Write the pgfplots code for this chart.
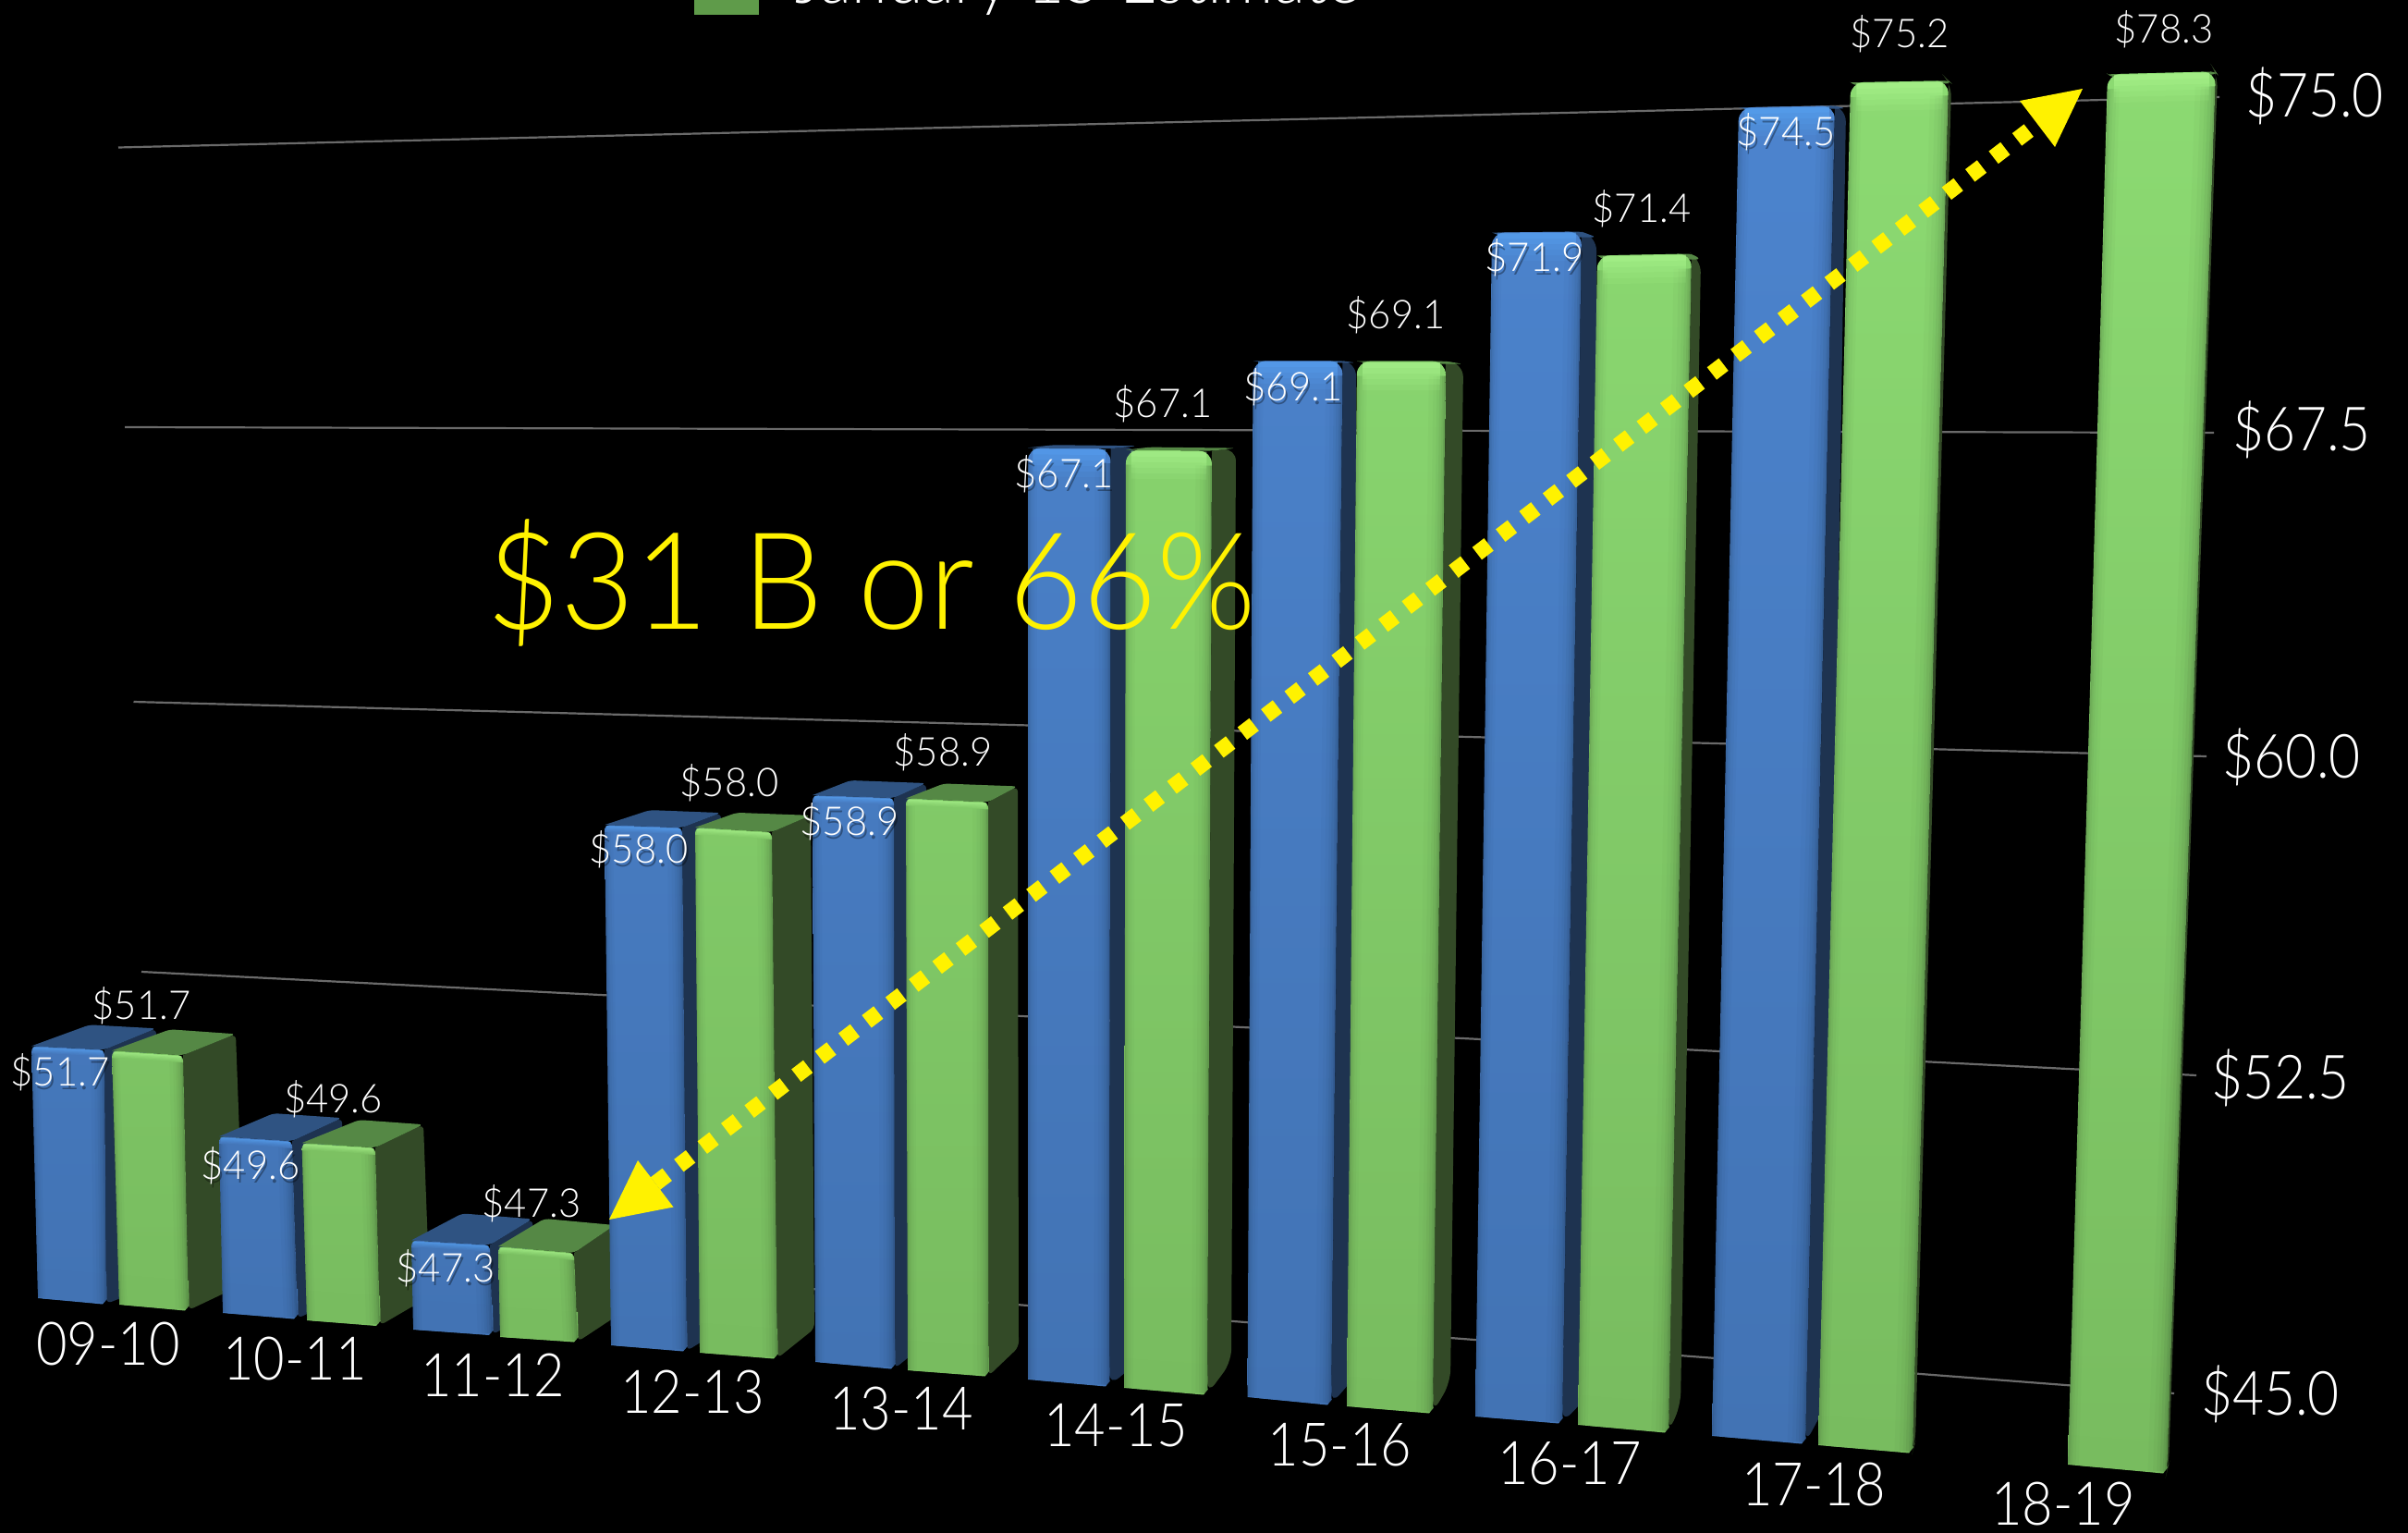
\documentclass[border=0pt]{standalone}
\usepackage{fontspec}
\setmainfont{Lato}[UprightFont=* Light]
\newfontfamily\axisfont{Lato}[UprightFont=* Light,FakeStretch=0.89]
\newfontfamily\valuefont{Lato}[UprightFont=* Light,FakeStretch=0.97]
\newfontfamily\bigfont{Lato}[UprightFont=* Light,FakeStretch=0.945]
\usepackage{pgfplots}
\usepackage{pgfplotstable}
\pgfplotsset{compat=1.18}

\definecolor{blueBot}{HTML}{4273B4}
\definecolor{blueTop}{HTML}{4C84CE}
\definecolor{blueSide}{HTML}{1E3350}
\definecolor{blueFace}{HTML}{2F5382}
\definecolor{blueGlow}{HTML}{5CACFF}
\definecolor{greenBot}{HTML}{78BC5F}
\definecolor{greenTop}{HTML}{8CDA72}
\definecolor{greenSide}{HTML}{334A27}
\definecolor{greenFace}{HTML}{558845}
\definecolor{greenGlow}{HTML}{B4FF96}
\definecolor{gridgrey}{HTML}{6A6A6A}
\definecolor{callout}{HTML}{FFF200}
\definecolor{legendgreen}{HTML}{5F9B4A}

% One row per bar: value, vertical scale, tilt of the top edge, front face
% corners, depth offsets of the top face and side, label position.
\pgfplotstableread{
cat val k tilt tlx trx blx bly brx bry tdx tdy sdx sdy sbx sby lx ly
09-10 51.7 40.7 4 34 113 41 1404 115 1410 63 -23 56 -23 172 1388 65 1160
10-11 49.6 41.5 5 237 316 241 1420 322 1426 59 -25 54 -25 375 1400 271 1261
11-12 47.3 42 5 445 530 447 1438 533 1443.5 55 -29 46 -28 580 1415 482 1372
12-13 58.0 43.3 3 654 738 661 1455 743 1461 49 -16 42 -16 785 1435 691 919
13-14 58.9 44.1 3 879 967 882 1473 968 1480 41 -16 35 -16 1005 1450 919 889
14-15 67.1 45.6 1 1112 1201.5 1112 1492 1200 1499 28 -3 28.5 -3 1232 1472 1151 513
15-16 69.1 46.5 0 1355.6 1452.5 1349.5 1511 1440 1519 15 2 14.5 2 1465 1490 1399 419
16-17 71.9 47.6 -1 1614 1711 1596 1532 1690 1539 16 6 16 6 1727 1500 1660 279
17-18 74.5 48.7 -2 1881 1985 1852 1553 1953 1561 12 3 12 3 1975 1520 1932 143
}\bluetab

\pgfplotstableread{
cat val k tilt tlx trx blx bly brx bry tdx tdy sdx sdy sbx sby lx ly cx cy
09-10 51.7 41 5 121 198 129 1411 204 1417 63 -23 57 -23 265 1388 153 1088 117 1453
10-11 49.6 41.7 5 326.5 406 332 1428 411 1433.5 62 -25 52 -25 465 1402 360.5 1189 319 1469
11-12 47.3 42.6 7 539 621 541 1446 625 1451 50 -30 44 -30 672 1420 575 1302 533 1487
12-13 58.0 43.7 5 752 835 757 1463 841 1469 45 -16 42 -18 881 1437 789 847 749 1505
13-14 58.9 44.5 4 980 1069 982 1482 1069.5 1488 41 -16 32 -17 1102 1457 1020 814 975 1523
14-15 67.1 45.9 1 1218 1311 1216 1501 1306 1508 26 -3 26 -3 1332 1473 1258 437 1207 1542
15-16 69.1 46.9 0 1468 1564 1457 1521 1550 1528 19 3 19 3 1569 1495 1510 340.5 1449.5 1563
16-17 71.4 47.9 -2 1728 1830 1707 1541 1805 1549 10 6 10 6 1818 1520 1776 226 1698 1583
17-18 75.2 48.8 -2 2002 2108 1967 1563 2069 1571 3 3 3 3 2072 1560 2055 36.5 1962 1605
18-19 78.3 49.3 -3 2280 2397 2237 1584 2344 1593 2 3 2 3 2346 1585 2341 31.5 2232 1626
}\greentab

% Value axis is cut off a little above its last gridline.
\def\valuecap{75.5}
\def\valuebase{45}

\newcommand{\fetch}[3]{\pgfplotstablegetelem{\rowno}{#2}\of{#1}\let#3\pgfplotsretval}

% Semi-transparent strip of the front face between fractions #1 and #2 of its width.
\newcommand{\edgestrip}[3]{%
  \pgfmathsetmacro{\sa}{\tlx+#1*(\trx-\tlx)}%
  \pgfmathsetmacro{\sb}{\tlx+#2*(\trx-\tlx)}%
  \pgfmathsetmacro{\sc}{\blx+#2*(\brx-\blx)}%
  \pgfmathsetmacro{\sd}{\blx+#1*(\brx-\blx)}%
  \pgfmathsetmacro{\ya}{\ytl+#1*(\ytr-\ytl)+\inset}%
  \pgfmathsetmacro{\yb}{\ytl+#2*(\ytr-\ytl)+\inset}%
  \pgfmathsetmacro{\yc}{\bly+#2*(\bry-\bly)-1}%
  \pgfmathsetmacro{\yd}{\bly+#1*(\bry-\bly)-1}%
  \edef\cmd{\noexpand\addplot[draw=none,fill=black,fill opacity=#3]
    coordinates {(\sa,\ya)(\sb,\yb)(\sc,\yc)(\sd,\yd)};}\cmd}

% Glow along the upper edge of the front face, #1 pixels deep.
\newcommand{\glowstrip}[2]{%
  \pgfmathsetmacro{\sa}{\tlx+\glowside*(\trx-\tlx)}%
  \pgfmathsetmacro{\sb}{\tlx+(1-\glowside)*(\trx-\tlx)}%
  \pgfmathsetmacro{\ya}{\ytl+\glowside*(\ytr-\ytl)+1}%
  \pgfmathsetmacro{\yb}{\ytl+(1-\glowside)*(\ytr-\ytl)+1}%
  \pgfmathsetmacro{\yc}{\yb+#1}%
  \pgfmathsetmacro{\yd}{\ya+#1}%
  \edef\cmd{\noexpand\addplot[draw=none,fill=\palette Glow,fill opacity=#2]
    coordinates {(\sa,\ya)(\sb,\yb)(\sb,\yc)(\sa,\yd)};}\cmd}

% Draws one bar: side, top face, front face, soft edges and glow.
\newcommand{\drawbar}[2]{%
  \def\palette{#2}%
  \fetch{#1}{val}\val \fetch{#1}{k}\kk \fetch{#1}{tilt}\tilt
  \fetch{#1}{tlx}\tlx \fetch{#1}{trx}\trx
  \fetch{#1}{blx}\blx \fetch{#1}{bly}\bly \fetch{#1}{brx}\brx \fetch{#1}{bry}\bry
  \fetch{#1}{tdx}\tdx \fetch{#1}{tdy}\tdy \fetch{#1}{sdx}\sdx \fetch{#1}{sdy}\sdy
  \fetch{#1}{sbx}\sbx \fetch{#1}{sby}\sby
  \pgfmathsetmacro{\ytl}{\bly-(min(\val,\valuecap)-\valuebase)*\kk}%
  \pgfmathsetmacro{\ytr}{\ytl+\tilt}%
  \pgfmathsetmacro{\xbl}{\tlx+\tdx}\pgfmathsetmacro{\ybl}{\ytl+\tdy}%
  \pgfmathsetmacro{\xbr}{\trx+\sdx}\pgfmathsetmacro{\ybr}{\ytr+\sdy}%
  \pgfmathsetmacro{\xmid}{0.5*(\tlx+\trx)}\pgfmathsetmacro{\ymid}{0.5*(\ytl+\ytr)}%
  \pgfmathtruncatemacro{\share}{max(0,min(100,(\ytl-100)/14))}%
  \pgfmathsetmacro{\glowdepth}{\tdy<-10 ? 6 : 30}%
  \pgfmathsetmacro{\glowside}{\tdy<-10 ? 0.02 : 0.06}%
  \pgfmathsetmacro{\radius}{\tdy<-10 ? 3 : 7}%
  \pgfmathsetmacro{\inset}{\tdy<-10 ? 8 : 16}%
  % the foot of the bar keeps a nearly square outline
  \pgfmathsetmacro{\footl}{\bly-32}\pgfmathsetmacro{\footr}{\bry-32}%
  \pgfmathsetmacro{\footx}{\brx-4}\pgfmathsetmacro{\footy}{\bry+0.5}%
  \pgfmathsetmacro{\foota}{\brx+0.5}\pgfmathsetmacro{\footb}{\bry-5}%
  \edef\cmd{\noexpand\addplot[draw=none,fill=\palette Side,rounded corners=\radius pt]
    coordinates {(\trx,\ytr)(\xbr,\ybr)(\sbx,\sby)(\brx,\bry)(\trx,\ytr)};}\cmd
  \edef\cmd{\noexpand\addplot[draw=none,fill=\palette Face,rounded corners=2.5pt]
    coordinates {(\tlx,\ytl)(\xbl,\ybl)(\xbr,\ybr)(\trx,\ytr)(\tlx,\ytl)};}\cmd
  \edef\cmd{\noexpand\addplot[draw=none,rounded corners=\radius pt,
      top color=\palette Bot!\share!\palette Top,bottom color=\palette Bot]
    coordinates {(\xmid,\ymid)(\trx,\ytr)(\brx,\bry)(\blx,\bly)(\tlx,\ytl)(\xmid,\ymid)};}\cmd
  \edef\cmd{\noexpand\addplot[draw=none,fill=\palette Bot]
    coordinates {(\blx,\footl)(\brx,\footr)(\foota,\footb)(\footx,\footy)(\blx,\bly)};}\cmd
  \edgestrip{0}{0.015}{0.05}\edgestrip{0}{0.03}{0.04}\edgestrip{0}{0.05}{0.03}%
  \edgestrip{0}{0.08}{0.025}\edgestrip{0}{0.11}{0.02}%
  \edgestrip{0.98}{1}{0.07}\edgestrip{0.96}{1}{0.05}\edgestrip{0.93}{1}{0.04}%
  \edgestrip{0.90}{1}{0.03}\edgestrip{0.86}{1}{0.025}\edgestrip{0.81}{1}{0.02}%
  \glowstrip{\glowdepth}{0.10}%
  \pgfmathsetmacro{\gv}{\glowdepth*0.8}\glowstrip{\gv}{0.12}%
  \pgfmathsetmacro{\gv}{\glowdepth*0.6}\glowstrip{\gv}{0.14}%
  \pgfmathsetmacro{\gv}{\glowdepth*0.4}\glowstrip{\gv}{0.18}%
  \pgfmathsetmacro{\gv}{\glowdepth*0.2}\glowstrip{\gv}{0.22}%
}

\tikzset{
  vallabel/.style={font=\valuefont\fontsize{21.5}{24}\selectfont,text=white,inner sep=0pt},
  catlabel/.style={font=\axisfont\fontsize{32.5}{36}\selectfont,text=white,inner sep=0pt},
  ticklabel/.style={font=\axisfont\fontsize{33}{36}\selectfont,text=white,inner sep=0pt},
}

\begin{document}
\begin{tikzpicture}
\path[use as bounding box,clip] (0,0) rectangle (1302.5pt,829pt);
\fill[black] (0,0) rectangle (1302.5pt,829pt);
\begin{axis}[
  at={(0,0)},anchor=south west,
  scale only axis,width=1302.5pt,height=829pt,
  xmin=0,xmax=2605,ymin=0,ymax=1658,y dir=reverse,
  hide axis,clip=false,
]
% gridlines of the value axis
\addplot[gridgrey,line width=1.1pt] coordinates {(128,159.5)(2401,105)};
\addplot[gridgrey,line width=1.1pt] coordinates {(135,462)(2395,468)};
\addplot[gridgrey,line width=1.1pt] coordinates {(144.5,759)(2387,818)};
\addplot[gridgrey,line width=1.1pt] coordinates {(153,1051)(2376,1163)};
\addplot[gridgrey,line width=1.1pt] coordinates {(160,1339)(2352,1507)};

% bars, front to right
\pgfplotsforeachungrouped \rowno in {0,...,8}{%
  \drawbar{\bluetab}{blue}%
  \drawbar{\greentab}{green}%
}
\def\rowno{9}\drawbar{\greentab}{green}

% legend entry running off the upper edge
\addplot[draw=none,fill=legendgreen] coordinates {(751,-20)(821,-20)(821,16)(751,16)};
\node[anchor=base west,inner sep=0pt,text=white,font=\bigfont\fontsize{37}{40}\selectfont]
  at (axis cs:860,4) {January 15 Estimate};

% value labels
\pgfplotsforeachungrouped \rowno in {0,...,8}{%
  \fetch{\bluetab}{val}\val \fetch{\bluetab}{lx}\lx \fetch{\bluetab}{ly}\ly
  \pgfmathsetmacro{\sx}{\lx+2}\pgfmathsetmacro{\sy}{\ly+4}%
  \edef\cmd{\noexpand\node[vallabel,text=black,opacity=0.35] at (axis cs:\sx,\sy) {\noexpand\$\val};
    \noexpand\node[vallabel] at (axis cs:\lx,\ly) {\noexpand\$\val};}\cmd
}
\pgfplotsforeachungrouped \rowno in {0,...,9}{%
  \fetch{\greentab}{val}\val \fetch{\greentab}{lx}\lx \fetch{\greentab}{ly}\ly
  \fetch{\greentab}{cat}\cat \fetch{\greentab}{cx}\cx \fetch{\greentab}{cy}\cy
  \edef\cmd{\noexpand\node[vallabel] at (axis cs:\lx,\ly) {\noexpand\$\val};
    \noexpand\node[catlabel] at (axis cs:\cx,\cy) {\cat};}\cmd
}

% value axis labels, following the perspective of the gridlines
\node[ticklabel] at (axis cs:2504,104) {\$75.0};
\node[ticklabel] at (axis cs:2490,465) {\$67.5};
\node[ticklabel] at (axis cs:2479,819) {\$60.0};
\node[ticklabel] at (axis cs:2467,1166) {\$52.5};
\node[ticklabel] at (axis cs:2456,1508) {\$45.0};

% growth callout
\addplot[callout,line width=8.5pt,dash pattern=on 8pt off 8pt]
  coordinates {(709,1280)(2204,134)};
\addplot[draw=none,fill=callout] coordinates {(659,1319)(690,1255)(728.5,1305.5)};
\addplot[draw=none,fill=callout] coordinates {(2253,96)(2185,109)(2223,159)};
\node[text=callout,inner sep=0pt,font=\bigfont\fontsize{73}{80}\selectfont]
  at (axis cs:943,630) {\$31 B or 66\%};
\end{axis}
\end{tikzpicture}
\end{document}
